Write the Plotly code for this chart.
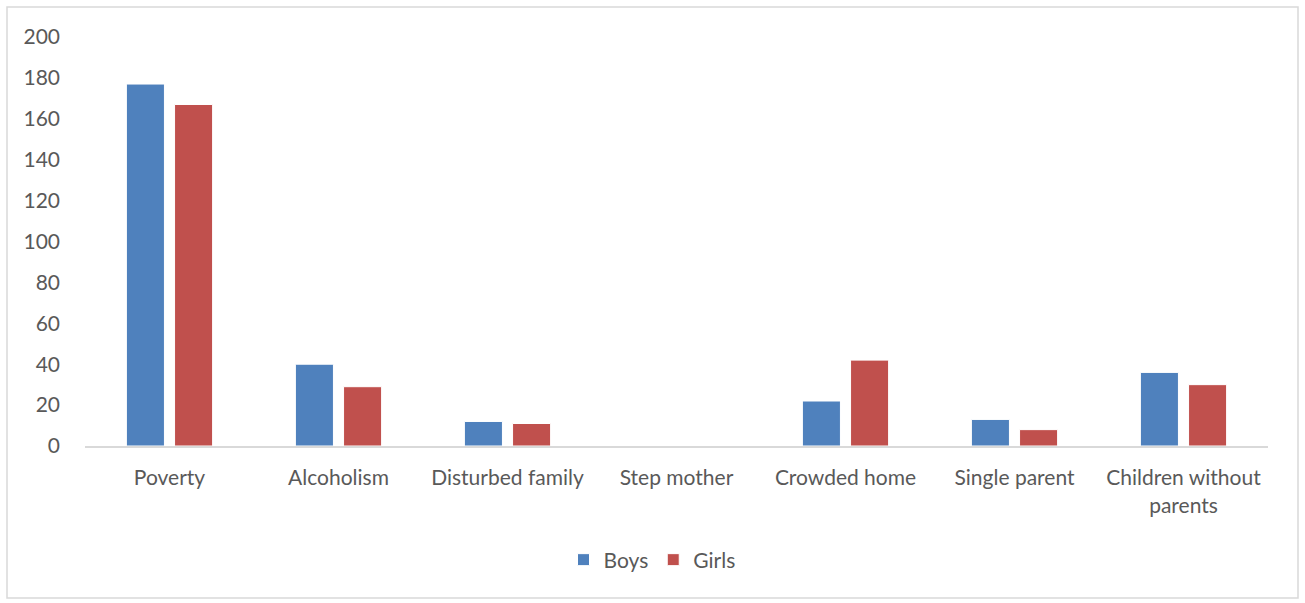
import plotly.graph_objects as go

categories = ["Poverty", "Alcoholism", "Disturbed family", "Step mother",
              "Crowded home", "Single parent", "Children without<br>parents"]
boys = [177, 40, 12, 0, 22, 13, 36]
girls = [167, 29, 11, 0, 42, 8, 30]

W, H = 1305, 603
L, R, T, B = 85, 37, 37, 157
pw, ph = W - L - R, H - T - B

fig = go.Figure()
fig.add_trace(go.Bar(x=categories, y=boys, name="Boys", marker_color="#4f81bd",
                     marker_line=dict(color="#ffffff", width=1)))
fig.add_trace(go.Bar(x=categories, y=girls, name="Girls", marker_color="#c0504d",
                     marker_line=dict(color="#ffffff", width=1)))

fig.update_layout(
    width=W, height=H,
    margin=dict(l=L, r=R, t=T, b=B, autoexpand=False),
    paper_bgcolor="white", plot_bgcolor="white",
    font=dict(family="Lato", size=21, color="#595959"),
    barmode="group", bargap=0.43, bargroupgap=0.21,
    legend=dict(orientation="h", x=(652 - L) / pw, xanchor="center",
                y=-(560 - T - ph) / ph, yanchor="middle", font=dict(size=21),
                itemwidth=30, traceorder="normal"),
    # outer chart border
    shapes=[dict(type="rect", xref="paper", yref="paper",
                 x0=(7 - L) / pw, x1=(1298 - L) / pw,
                 y0=-(598 - T - ph) / ph, y1=1 + (T - 7) / ph,
                 line=dict(color="#d9d9d9", width=1.5), layer="below")],
)
fig.update_xaxes(showline=True, linecolor="#d9d9d9", linewidth=2, automargin=False,
                 showgrid=False, ticks="", tickangle=0, ticklabelstandoff=12)
fig.update_yaxes(range=[0, 200], dtick=20, showgrid=False, zeroline=False, automargin=False,
                 showline=False, ticks="", ticklabelstandoff=24)

# drop the default 8px page margin so the figure sits at the window corner
fig.write_html("out.html", config={"displayModeBar": False},
               post_script="document.body.style.margin='0px';")
